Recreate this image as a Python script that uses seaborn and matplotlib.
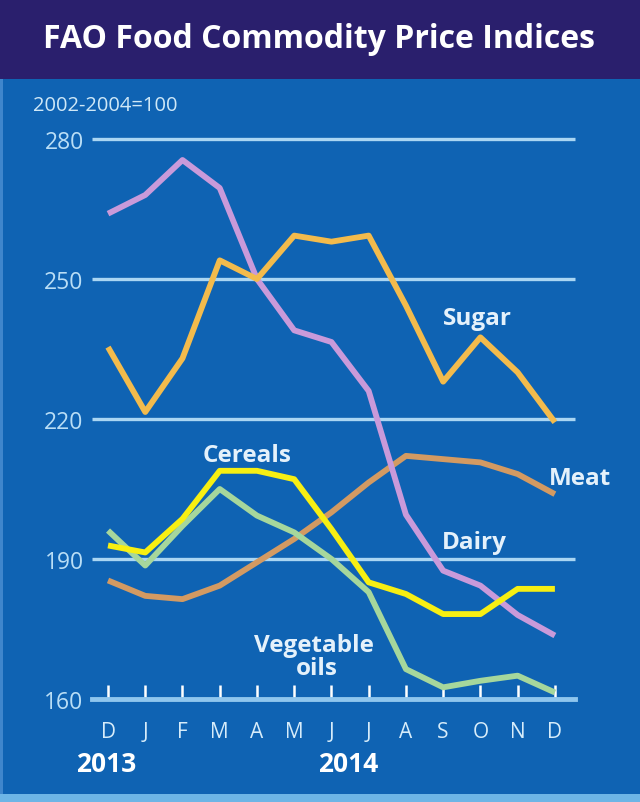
import matplotlib
matplotlib.use("Agg")
import matplotlib.pyplot as plt
import matplotlib.transforms as mtransforms
from matplotlib.patches import Rectangle
import seaborn as sns
import pandas as pd

months = ["D", "J", "F", "M", "A", "M", "J", "J", "A", "S", "O", "N", "D"]
dairy = [264, 268, 275.5, 269.5, 250, 239, 236.5, 226, 199.5, 187.5, 184.3, 178, 173.6]
sugar = [235.4, 221.5, 233, 254, 250, 259.3, 258, 259.3, 244.3, 228, 237.5, 230, 219.3]
meat = [185.4, 182.1, 181.4, 184.3, 189.3, 194.3, 200, 206.4, 212.1, 211.4, 210.7, 208.2, 203.9]
cereals = [192.9, 191.4, 198.6, 208.9, 208.9, 207.1, 196.4, 185, 182.5, 178.2, 178.2, 183.6, 183.6]
veg_oils = [196.1, 188.6, 197.1, 205, 199.3, 195.7, 190, 182.9, 166.4, 162.5, 163.9, 165, 161.4]
yticks = [160, 190, 220, 250, 280]
years = ["2013", "2014"]

series = {"Dairy": dairy, "Sugar": sugar, "Meat": meat, "Cereals": cereals, "Vegetable oils": veg_oils}
rows = []
for name, vals in series.items():
    for i, v in enumerate(vals):
        rows.append({"idx": i, "value": v, "series": name})
df = pd.DataFrame(rows)

palette = {"Dairy": "#c99ada", "Sugar": "#f3bb4c", "Meat": "#d39a62",
           "Cereals": "#f7ef12", "Vegetable oils": "#a6d79c"}

BG = "#0f63b3"
FONT = "Open Sans"
fig = plt.figure(figsize=(6.4, 8.03), dpi=100)
fig.patch.set_facecolor(BG)
# title band and edge strips
fig.patches.append(Rectangle((0, 1 - 80 / 803), 1, 80 / 803, transform=fig.transFigure,
                             facecolor="#2a1f6d", edgecolor="none", zorder=0))
fig.patches.append(Rectangle((0, 0), 1, 8 / 803, transform=fig.transFigure,
                             facecolor="#6db5e6", edgecolor="none", zorder=0))
fig.patches.append(Rectangle((0, 8 / 803), 3 / 640, 715 / 803, transform=fig.transFigure,
                             facecolor="#3f86cc", edgecolor="none", zorder=0))
fig.text(319 / 640, 1 - 40 / 803, "FAO Food Commodity Price Indices", color="white",
         fontsize=23, fontweight="bold", family=FONT, ha="center", va="center")
fig.text(33 / 640, 1 - 106 / 803, "2002-2004=100", color="#cfe8f7", fontsize=14.5,
         family=FONT, ha="left", va="center")

ax = fig.add_axes([92 / 640, 1 - 700 / 803, 483 / 640, 560 / 803])
ax.set_facecolor(BG)
ax.set_xlim(-0.43, 12.54)
ax.set_ylim(160, 280)

for y in yticks[1:]:
    ax.axhline(y, color="#aad6f3", lw=2.4, clip_on=False, zorder=1)

sns.lineplot(data=df, x="idx", y="value", hue="series", palette=palette, ax=ax,
             lw=4.2, legend=False, zorder=3,
             hue_order=["Meat", "Dairy", "Sugar", "Vegetable oils", "Cereals"])
for ln in ax.get_lines():
    ln.set_clip_on(False)
    ln.set_solid_capstyle("butt")

for s in ["top", "right", "left"]:
    ax.spines[s].set_visible(False)
ax.spines["bottom"].set_color("#8fc6ee")
ax.spines["bottom"].set_linewidth(3.5)
ax.spines["bottom"].set_zorder(2)

ax.set_xticks(range(len(months)))
ax.set_xticklabels(months)
ax.set_yticks(yticks)
ax.set_yticklabels([str(t) for t in yticks])
ax.tick_params(axis="x", direction="in", length=10, width=1.8, color="white",
               labelcolor="#d6ecfa", labelsize=15, pad=16)
ax.tick_params(axis="y", length=0, labelcolor="#b9def6", labelsize=16.5, pad=6)
for lbl in ax.get_xticklabels() + ax.get_yticklabels():
    lbl.set_family(FONT)
ax.set_xlabel("")
ax.set_ylabel("")

trans = mtransforms.blended_transform_factory(ax.transData, fig.transFigure)
ax.text(-0.05, 1 - 765 / 803, years[0], transform=trans, color="white", fontsize=19,
        fontweight="bold", family=FONT, ha="center", va="center")
ax.text(6.45, 1 - 765 / 803, years[1], transform=trans, color="white", fontsize=19,
        fontweight="bold", family=FONT, ha="center", va="center")

lab = dict(color="#e4f1fb", fontsize=17.5, fontweight="bold", family=FONT,
           ha="center", va="baseline", zorder=5)
ax.text(9.93, 240.3, "Sugar", **lab)
ax.text(12.67, 206.1, "Meat", **lab)
ax.text(9.83, 192.4, "Dairy", **lab)
ax.text(3.74, 211.0, "Cereals", **lab)
ax.text(5.53, 170.3, "Vegetable", **lab)
ax.text(5.6, 165.4, "oils", **lab)

fig.savefig("out.png", dpi=100, facecolor=fig.get_facecolor())
